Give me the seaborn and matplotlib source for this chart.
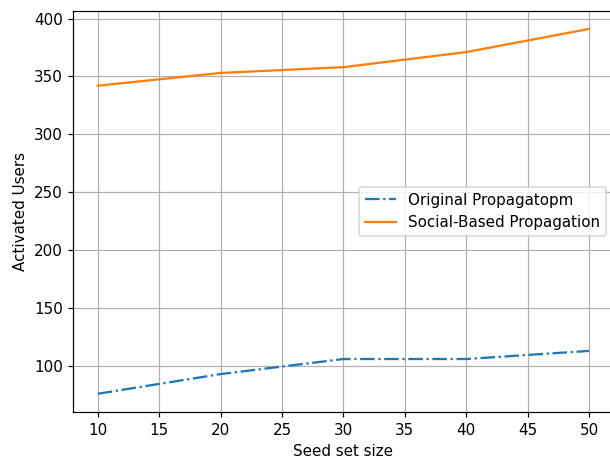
import matplotlib
matplotlib.use("Agg")
import matplotlib.pyplot as plt
import seaborn as sns
import pandas as pd

seed_sizes = [10, 20, 30, 40, 50]
original = [76, 93, 106, 106, 113]
social = [342, 353, 358, 371, 391]
series_names = ["Original Propagatopm", "Social-Based Propagation"]

df = pd.DataFrame({
    "x": seed_sizes * 2,
    "y": original + social,
    "series": [series_names[0]] * len(seed_sizes) + [series_names[1]] * len(seed_sizes),
})

W, H, DPI = 610, 458, 109
fig = plt.figure(figsize=(W / DPI, H / DPI), dpi=DPI)
left, right, top, bottom = 73.3, 613.5, 10.7, 412
ax = fig.add_axes([left / W, 1 - bottom / H, (right - left) / W, (bottom - top) / H])
sns.lineplot(data=df, x="x", y="y", hue="series", style="series",
             palette=["#1f77b4", "#ff7f0e"],
             dashes={series_names[0]: (6.4, 1.6, 1, 1.6), series_names[1]: ""},
             ax=ax, linewidth=1.5)
ax.grid(True, color="#b0b0b0", linewidth=0.8)
ax.set_axisbelow(True)
ax.set_xlabel("Seed set size")
ax.set_ylabel("Activated Users")
ax.set_xticks([10, 15, 20, 25, 30, 35, 40, 45, 50])
ax.legend(loc="center right", title=None)
fig.savefig("out.png", dpi=DPI)
